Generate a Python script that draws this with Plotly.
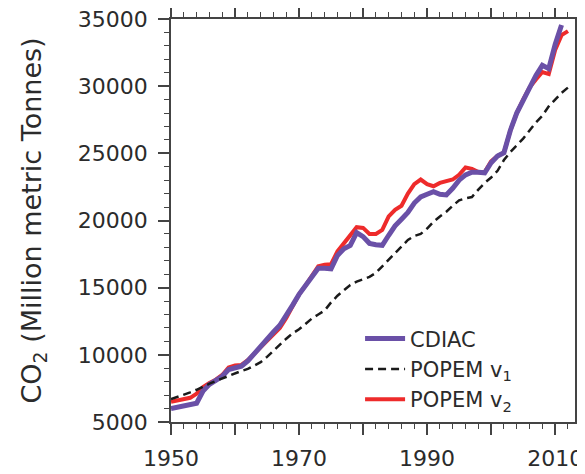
import plotly.graph_objects as go

years_cdiac = list(range(1950, 2012))
cdiac = [6000, 6100, 6200, 6300, 6400, 7300, 7800, 8100, 8400, 8900,
         9050, 9150, 9550, 10100, 10700, 11200, 11700, 12200, 12900, 13700,
         14500, 15100, 15700, 16450, 16450, 16400, 17400, 17900, 18150, 19100,
         18800, 18300, 18200, 18150, 18900, 19600, 20100, 20600, 21300, 21750,
         21950, 22150, 21950, 21900, 22400, 23000, 23400, 23600, 23600, 23550,
         24300, 24800, 25050, 26700, 28000, 29000, 30000, 30800, 31550, 31300,
         33100, 34550]

years_v1 = list(range(1950, 2013))
popem_v1 = [6700, 6850, 7000, 7200, 7400, 7650, 7850, 8050, 8250, 8450,
            8600, 8800, 8950, 9200, 9450, 9850, 10300, 10800, 11200, 11600,
            11900, 12300, 12700, 13000, 13300, 13900, 14400, 14800, 15200, 15450,
            15650, 15800, 16100, 16600, 17100, 17600, 18100, 18550, 18850, 19000,
            19400, 19900, 20300, 20650, 21100, 21500, 21650, 21750, 22300, 22800,
            23200, 23700, 24500, 25100, 25600, 26100, 26700, 27300, 27800, 28500,
            29000, 29500, 29900]

years_v2 = list(range(1950, 2013))
popem_v2 = [6500, 6600, 6700, 6800, 7100, 7600, 7900, 8150, 8500, 9050,
            9200, 9250, 9600, 10100, 10600, 11050, 11500, 12000, 12750, 13600,
            14500, 15150, 15900, 16600, 16700, 16750, 17700, 18300, 18900, 19500,
            19450, 19000, 19000, 19300, 20300, 20800, 21100, 22000, 22700, 23050,
            22700, 22550, 22800, 22900, 23050, 23400, 23950, 23850, 23600, 23600,
            24400, 24800, 25050, 26700, 28000, 29000, 29900, 30500, 31050, 30900,
            32700, 33800, 34100]

x_tickvals = [1950, 1960, 1970, 1980, 1990, 2000, 2010]
x_ticktext = ["1950", "", "1970", "", "1990", "", "2010"]
y_tickvals = [5000, 10000, 15000, 20000, 25000, 30000, 35000]
y_ticktext = ["5000", "10000", "15000", "20000", "25000", "30000", "35000"]

FONT = "DejaVu Sans"
TXT = "#2b2b2b"
AX = "#444444"

fig = go.Figure()
fig.add_trace(go.Scatter(x=years_v2, y=popem_v2, mode="lines", name="POPEM v<sub>2</sub>",
                         line=dict(color="#ee2b2b", width=4), legendrank=3))
fig.add_trace(go.Scatter(x=years_cdiac, y=cdiac, mode="lines", name="CDIAC",
                         line=dict(color="#6a50a7", width=5), legendrank=1))
fig.add_trace(go.Scatter(x=years_v1, y=popem_v1, mode="lines", name="POPEM v<sub>1</sub>",
                         line=dict(color="#1a1a1a", width=2.5, dash="8px,5px"), legendrank=2))

# page body adds an 8px offset, so the figure is sized to fit the 585x474 window
fig.update_layout(
    width=577, height=466,
    margin=dict(l=163, r=10, t=11, b=52),
    paper_bgcolor="white", plot_bgcolor="white",
    font=dict(family=FONT, size=20, color=TXT),
    showlegend=True,
    legend=dict(x=0.468, y=0.257, xanchor="left", yanchor="top",
                bgcolor="rgba(0,0,0,0)", font=dict(size=21, color=TXT),
                itemwidth=40, tracegroupgap=0),
)
fig.update_xaxes(
    range=[1950, 2013.1], tickmode="array", tickvals=x_tickvals, ticktext=x_ticktext,
    ticks="outside", ticklen=11, tickwidth=1.5, tickcolor=AX,
    showline=True, linecolor=AX, linewidth=1.5, mirror="ticks",
    showgrid=False, zeroline=False, automargin=False, ticklabeloverflow="allow",
    minor=dict(dtick=2, tick0=1950, ticks="outside", ticklen=5, tickwidth=1.2, tickcolor=AX, showgrid=False),
    tickfont=dict(size=22, color=TXT), ticklabelstandoff=5,
)
fig.update_yaxes(
    range=[5000, 35000], tickmode="array", tickvals=y_tickvals, ticktext=y_ticktext,
    ticks="outside", ticklen=11, tickwidth=1.5, tickcolor=AX,
    showline=True, linecolor=AX, linewidth=1.5, mirror="ticks",
    showgrid=False, zeroline=False, automargin=False, ticklabeloverflow="allow",
    minor=dict(dtick=1000, tick0=5000, ticks="outside", ticklen=5, tickwidth=1.2, tickcolor=AX, showgrid=False),
    tickfont=dict(size=22, color=TXT), ticklabelstandoff=6,
    title=dict(text="CO<sub>2</sub> (Million metric Tonnes)", font=dict(size=27, color=TXT), standoff=28),
)

fig.write_html("out.html")
